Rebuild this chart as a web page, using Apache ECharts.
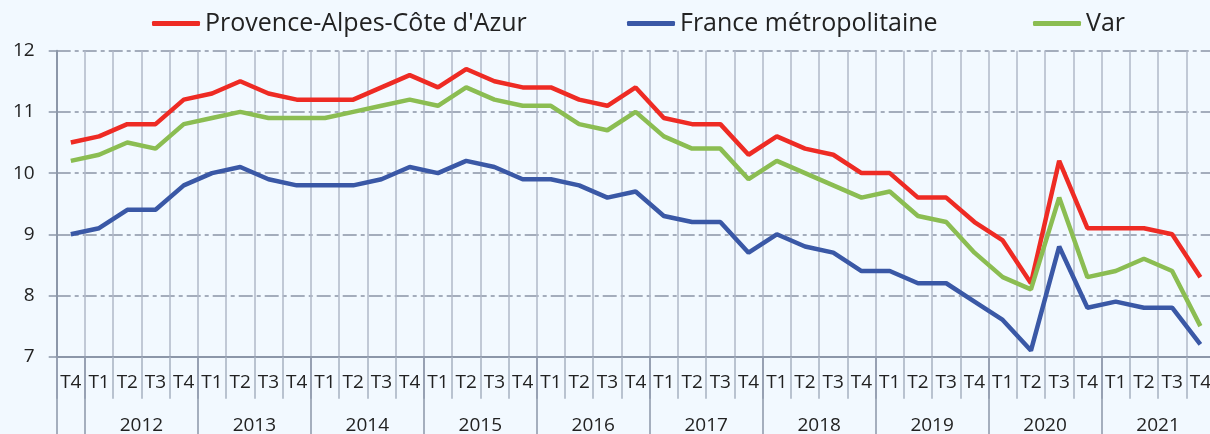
<!DOCTYPE html>
<html>
<head>
<meta charset="utf-8">
<script src="https://cdn.jsdelivr.net/npm/echarts@6/dist/echarts.min.js"></script>
<style>
html,body{margin:0;padding:0;background:#f2f9ff;}
#c{width:1210px;height:434px;}
</style>
</head>
<body>
<div id="c"></div>
<script>
// Quarter labels: 2011 T4, then 2012 T1 .. 2021 T4
const quarters = ["T4",
  "T1","T2","T3","T4", "T1","T2","T3","T4", "T1","T2","T3","T4",
  "T1","T2","T3","T4", "T1","T2","T3","T4", "T1","T2","T3","T4",
  "T1","T2","T3","T4", "T1","T2","T3","T4", "T1","T2","T3","T4",
  "T1","T2","T3","T4"];
const years = ["2012","2013","2014","2015","2016","2017","2018","2019","2020","2021"];

const seriesNames = ["Provence-Alpes-Côte d'Azur", "France métropolitaine", "Var"];

const paca = [10.5,
  10.6,10.8,10.8,11.2, 11.3,11.5,11.3,11.2, 11.2,11.2,11.4,11.6,
  11.4,11.7,11.5,11.4, 11.4,11.2,11.1,11.4, 10.9,10.8,10.8,10.3,
  10.6,10.4,10.3,10.0, 10.0,9.6,9.6,9.2, 8.9,8.2,10.2,9.1,
  9.1,9.1,9.0,8.3];
const france = [9.0,
  9.1,9.4,9.4,9.8, 10.0,10.1,9.9,9.8, 9.8,9.8,9.9,10.1,
  10.0,10.2,10.1,9.9, 9.9,9.8,9.6,9.7, 9.3,9.2,9.2,8.7,
  9.0,8.8,8.7,8.4, 8.4,8.2,8.2,7.9, 7.6,7.1,8.8,7.8,
  7.9,7.8,7.8,7.2];
const varDept = [10.2,
  10.3,10.5,10.4,10.8, 10.9,11.0,10.9,10.9, 10.9,11.0,11.1,11.2,
  11.1,11.4,11.2,11.1, 11.1,10.8,10.7,11.0, 10.6,10.4,10.4,9.9,
  10.2,10.0,9.8,9.6, 9.7,9.3,9.2,8.7, 8.3,8.1,9.6,8.3,
  8.4,8.6,8.4,7.5];

const colors = ['#ee2b24', '#3a58a6', '#8bbd52'];

// Year axis: half-category points (boundaryGap false), 2 points per quarter
const yearSlots = [];
for (let i = 0; i <= quarters.length * 2; i++) {
  const k = i - 6;
  yearSlots.push(k >= 0 && k % 8 === 0 && k / 8 < years.length ? years[k / 8] : '');
}

const FONT = 'Open Sans';
const chart = echarts.init(document.getElementById('c'));
const mkLegend = (name, left) => ({
  data: [name], left: left, top: 6,
  icon: 'roundRect', itemWidth: 48, itemHeight: 5,
  textStyle: {fontFamily: FONT, fontSize: 25, color: '#222'},
  itemGap: 0
});
chart.setOption({
  backgroundColor: '#f2f9ff',
  animation: false,
  color: colors,
  legend: [mkLegend(seriesNames[0], 147), mkLegend(seriesNames[1], 622), mkLegend(seriesNames[2], 1028)],
  grid: {left: 56.7, top: 50.7, width: 1157.8, height: 306, outerBoundsMode: 'none', containLabel: false},
  xAxis: [{
    type: 'category', data: quarters, boundaryGap: true, position: 'bottom',
    axisLine: {show: true, lineStyle: {color: '#8c97a9', width: 2}},
    axisTick: {show: true, interval: 0, length: 42, lineStyle: {color: '#a7b1c1', width: 1.5}},
    axisLabel: {interval: 0, margin: 16, fontFamily: FONT, fontSize: 19, color: '#222', hideOverlap: false},
    splitLine: {show: true, interval: 0, lineStyle: {color: '#b0b9c9', width: 1.5}}
  }, {
    type: 'category', data: yearSlots, boundaryGap: false, position: 'bottom', offset: 0,
    axisLine: {show: false},
    axisTick: {show: true, length: 90, interval: (i) => i === 0 || i % 8 === 2,
      lineStyle: {color: '#8c97a9', width: 1.5}},
    axisLabel: {interval: (i) => i % 8 === 6, margin: 59, fontFamily: FONT, fontSize: 19, color: '#222', hideOverlap: false},
    splitLine: {show: false}
  }],
  yAxis: {
    type: 'value', min: 7, max: 12, interval: 1,
    axisLine: {show: true, lineStyle: {color: '#8c97a9', width: 2}},
    axisTick: {show: true, length: 8, lineStyle: {color: '#8c97a9', width: 1.5}},
    axisLabel: {margin: 22, fontFamily: FONT, fontSize: 19, color: '#222'},
    splitLine: {show: true, lineStyle: {color: '#8a94a6', width: 1.5, type: [14, 4, 4, 4]}}
  },
  series: [
    {name: seriesNames[0], type: 'line', data: paca, xAxisIndex: 0, symbol: 'none', lineStyle: {width: 4.5, color: colors[0]}},
    {name: seriesNames[1], type: 'line', data: france, xAxisIndex: 0, symbol: 'none', lineStyle: {width: 4.5, color: colors[1]}},
    {name: seriesNames[2], type: 'line', data: varDept, xAxisIndex: 0, symbol: 'none', lineStyle: {width: 4.5, color: colors[2]}}
  ]
});
</script>
</body>
</html>
